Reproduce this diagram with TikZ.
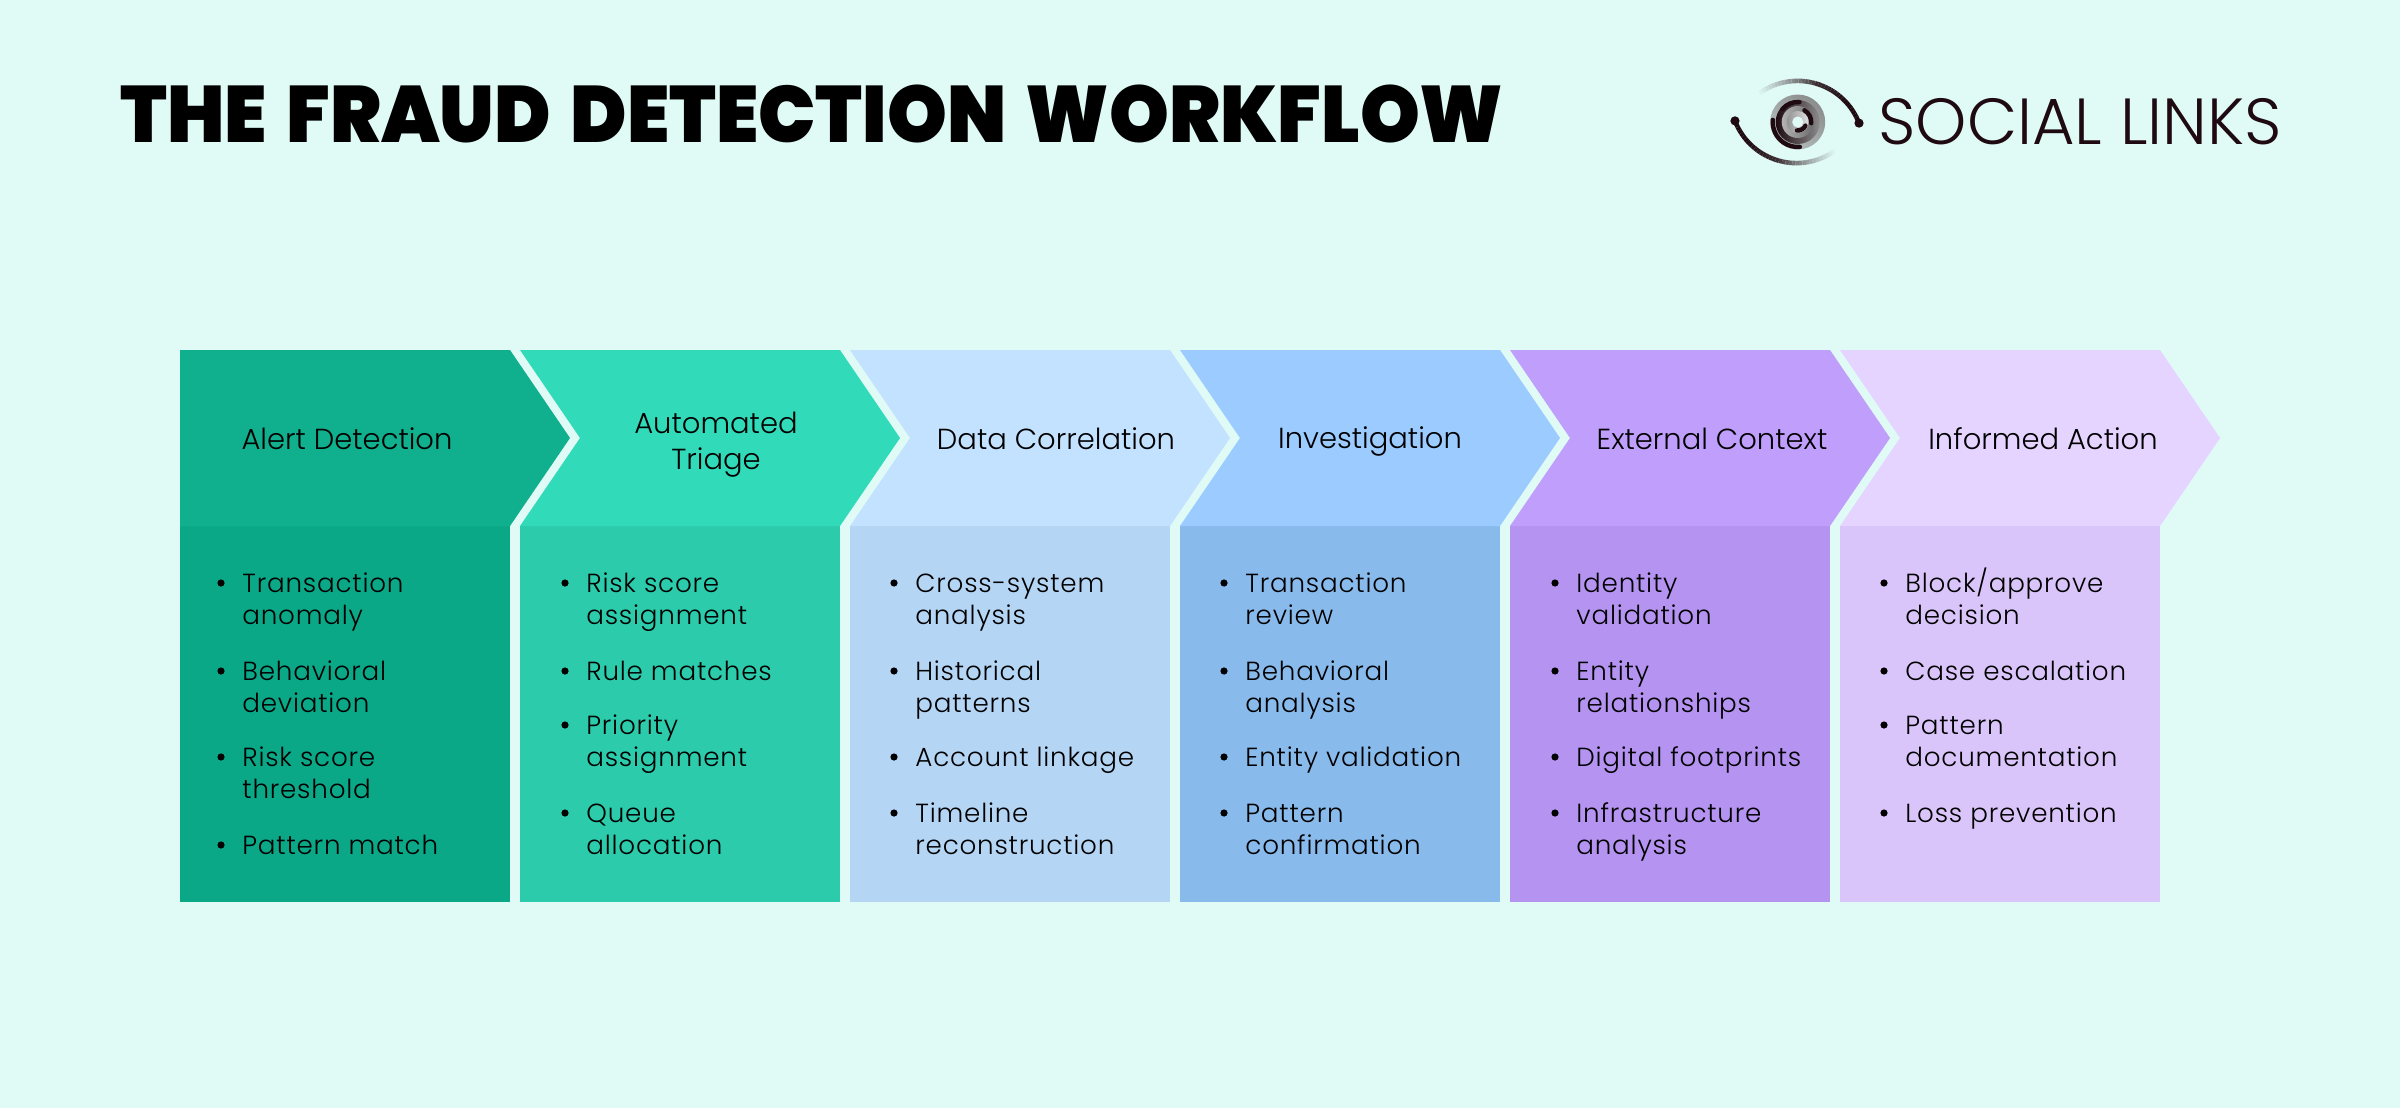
\documentclass[tikz,border=0pt]{standalone}
\usepackage{fontspec}
\setmainfont{Poppins}
\newfontfamily\bodyfont[LetterSpace=3]{Poppins Light}
\newfontfamily\headfont{Poppins Light}
\newfontfamily\titlefont[FakeStretch=0.951,WordSpace=1.5]{Poppins Black}
\newfontfamily\logofont{Poppins Light}
\definecolor{bgc}{HTML}{E0FAF6}
\definecolor{logoc}{HTML}{1E0A10}
\definecolor{ha}{HTML}{10B08E}\definecolor{ba}{HTML}{0BA888}
\definecolor{hb}{HTML}{31DBBA}\definecolor{bb}{HTML}{2CCBAB}
\definecolor{hc}{HTML}{C3E2FF}\definecolor{bc}{HTML}{B5D5F5}
\definecolor{hd}{HTML}{9BCBFF}\definecolor{bd}{HTML}{89BAEC}
\definecolor{he}{HTML}{C09FFC}\definecolor{be}{HTML}{B593F0}
\definecolor{hf}{HTML}{E5D4FF}\definecolor{bf}{HTML}{DAC5FA}
\tikzset{
  headlabel/.style={font=\headfont\fontsize{14.5}{18}\selectfont,text=black,align=center,inner sep=0pt},
  itemtext/.style={font=\bodyfont\fontsize{13.1}{16}\selectfont,text=black,anchor=base west,inner sep=0pt},
  bulletdot/.style={circle,fill=black,inner sep=0pt,minimum size=3.6pt},
  irisarc/.style={logoc,line width=2.2pt,line cap=round},
}
% \itm{name}{x of text}{baseline y}{text}
\newcommand{\itm}[4]{\node[itemtext] (#1) at (#2,#3) {#4};}
\newcommand{\bul}[3]{\node[bulletdot] (#1) at (#2-21,#3-9) {};}
\begin{document}
\begin{tikzpicture}[x=0.5pt,y=-0.5pt]
\useasboundingbox (0,0) rectangle (2400,1108);
\fill[bgc] (0,0) rectangle (2400,1108);
% column bodies
\foreach \l/\r/\c in {180/510/ba,520/840/bb,850/1170/bc,1180/1500/bd,1510/1830/be,1840/2160/bf}
  \fill[\c] (\l,526) rectangle (\r,902);
% chevron heads
\fill[ha] (180,350) -- (510,350) -- (570,438) -- (510,526) -- (180,526) -- cycle;
\foreach \l/\r/\c in {520/840/hb,850/1170/hc,1180/1500/hd,1510/1830/he,1840/2160/hf}
  \fill[\c] (\l,350) -- (\r,350) -- (\r+60,438) -- (\r,526) -- (\l,526) -- (\l+60,438) -- cycle;
% title
\node[font=\titlefont\fontsize{40}{48}\selectfont,text=black,anchor=base west,inner sep=0pt] (title) at (120,142) {THE FRAUD DETECTION WORKFLOW};
% logo
\foreach \i in {0,...,35}{
  \pgfmathsetmacro{\aa}{128-\i*107/36}
  \pgfmathsetmacro{\ab}{128-(\i+1)*107/36}
  \pgfmathsetmacro{\m}{min(100,\i*100/18)}
  \pgfmathsetmacro{\n}{min(100,20+\i*100/36)}
  \colorlet{segc}{logoc!\n!gray}
  \draw[line width=2.3pt,color=segc!\m!bgc] (1797.6+65.8*cos \aa,146.7-65.8*sin \aa) -- (1797.6+65.8*cos \ab,146.7-65.8*sin \ab);
  \draw[line width=2.3pt,color=segc!\m!bgc] (1796.4-65.8*cos \aa,97.3+65.8*sin \aa) -- (1796.4-65.8*cos \ab,97.3+65.8*sin \ab);
}
\fill[logoc] (1797.6+65.8*cos 21,146.7-65.8*sin 21) circle (4.6);
\fill[logoc] (1796.4-65.8*cos 21,97.3+65.8*sin 21) circle (4.6);
\coordinate (iris) at (1797.7,122);
\shade[left color=gray!90!white,right color=gray!45!bgc,shading angle=-40] (iris) circle (27.5);
\shade[left color=logoc,right color=gray!90!white] (iris) circle (22);
\shade[left color=gray!60!white,right color=gray!85!black] (iris) circle (16);
\shade[left color=gray!85!white,right color=gray!25!white] (iris) circle (11);
\fill[bgc] (iris) circle (5.5);
\draw[irisarc] (iris) ++(-175:25) arc[start angle=-175,end angle=-275,radius=25];
\draw[irisarc] (iris) ++(-85:20) arc[start angle=-85,end angle=-140,radius=20];
\draw[irisarc] (iris) ++(5:13.5) arc[start angle=5,end angle=-60,radius=13.5];
\draw[irisarc] (iris) ++(95:8.5) arc[start angle=95,end angle=25,radius=8.5];
\node[font=\logofont\fontsize{32.6}{36}\selectfont,text=logoc,anchor=base west,inner sep=0pt] (logotext) at (1878,144) {SOCIAL LINKS};
% headers
\node[headlabel] (h1) at (347,439) {Alert Detection};
\node[headlabel] (h2) at (716,445) {Automated\\Triage};
\node[headlabel] (h3) at (1056,439) {Data Correlation};
\node[headlabel] (h4) at (1370,441) {Investigation};
\node[headlabel] (h5) at (1712,439) {External Context};
\node[headlabel] (h6) at (2043,439) {Informed Action};
% column 1
\bul{b11}{242}{592}\itm{t11}{242}{592}{Transaction}\itm{t12}{242}{624}{anomaly}
\bul{b12}{242}{680}\itm{t13}{242}{680}{Behavioral}\itm{t14}{242}{712}{deviation}
\bul{b13}{242}{766}\itm{t15}{242}{766}{Risk score}\itm{t16}{242}{798}{threshold}
\bul{b14}{242}{854}\itm{t17}{242}{854}{Pattern match}
% column 2
\bul{b21}{586}{592}\itm{t21}{586}{592}{Risk score}\itm{t22}{586}{624}{assignment}
\bul{b22}{586}{680}\itm{t23}{586}{680}{Rule matches}
\bul{b23}{586}{734}\itm{t24}{586}{734}{Priority}\itm{t25}{586}{766}{assignment}
\bul{b24}{586}{822}\itm{t26}{586}{822}{Queue}\itm{t27}{586}{854}{allocation}
% column 3
\bul{b31}{915}{592}\itm{t31}{915}{592}{Cross-system}\itm{t32}{915}{624}{analysis}
\bul{b32}{915}{680}\itm{t33}{915}{680}{Historical}\itm{t34}{915}{712}{patterns}
\bul{b33}{915}{766}\itm{t35}{915}{766}{Account linkage}
\bul{b34}{915}{822}\itm{t36}{915}{822}{Timeline}\itm{t37}{915}{854}{reconstruction}
% column 4
\bul{b41}{1245}{592}\itm{t41}{1245}{592}{Transaction}\itm{t42}{1245}{624}{review}
\bul{b42}{1245}{680}\itm{t43}{1245}{680}{Behavioral}\itm{t44}{1245}{712}{analysis}
\bul{b43}{1245}{766}\itm{t45}{1245}{766}{Entity validation}
\bul{b44}{1245}{822}\itm{t46}{1245}{822}{Pattern}\itm{t47}{1245}{854}{confirmation}
% column 5
\bul{b51}{1576}{592}\itm{t51}{1576}{592}{Identity}\itm{t52}{1576}{624}{validation}
\bul{b52}{1576}{680}\itm{t53}{1576}{680}{Entity}\itm{t54}{1576}{712}{relationships}
\bul{b53}{1576}{766}\itm{t55}{1576}{766}{Digital footprints}
\bul{b54}{1576}{822}\itm{t56}{1576}{822}{Infrastructure}\itm{t57}{1576}{854}{analysis}
% column 6
\bul{b61}{1905}{592}\itm{t61}{1905}{592}{Block/approve}\itm{t62}{1905}{624}{decision}
\bul{b62}{1905}{680}\itm{t63}{1905}{680}{Case escalation}
\bul{b63}{1905}{734}\itm{t64}{1905}{734}{Pattern}\itm{t65}{1905}{766}{documentation}
\bul{b64}{1905}{822}\itm{t66}{1905}{822}{Loss prevention}
\end{tikzpicture}
\end{document}
